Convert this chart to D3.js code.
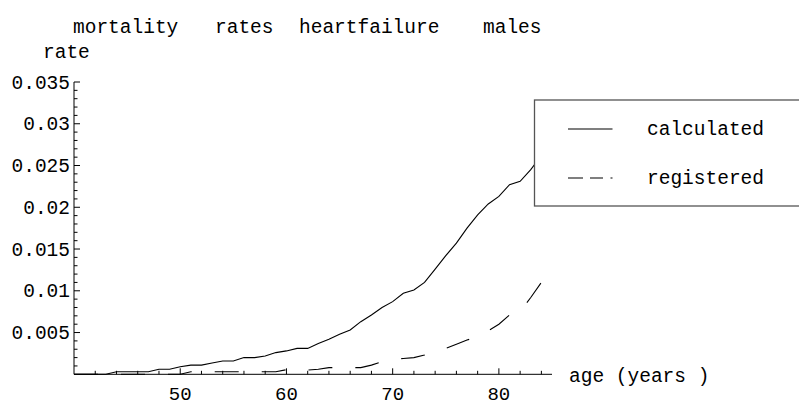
<!DOCTYPE html>
<html>
<head>
<meta charset="utf-8">
<script src="https://cdn.jsdelivr.net/npm/d3@7"></script>
<style>
  html, body { margin: 0; padding: 0; background: #fff; }
  svg { display: block; }
  text { font-family: "Liberation Mono", "Courier New", monospace; fill: #000; }
</style>
</head>
<body>
<svg id="chart" width="799" height="405"></svg>
<script>
// Heart failure mortality rates for males, by age
const ages = d3.range(40, 86);
const calculated = [
  0, 0, 0, 0, 0.0003, 0.0003, 0.0003, 0.0003, 0.0006, 0.0006,
  0.0009, 0.0011, 0.0011, 0.00135, 0.0016, 0.0016, 0.002, 0.002, 0.0022, 0.0026,
  0.0028, 0.0031, 0.0031, 0.0037, 0.0042, 0.0048, 0.0053, 0.0063, 0.0071, 0.008,
  0.0087, 0.0097, 0.0101, 0.011, 0.0126, 0.0142, 0.0157, 0.0175, 0.0191, 0.0204,
  0.0213, 0.0227, 0.0231, 0.0245, 0.0262, 0.0278
];
const registered = [
  0, 0, 0, 0, 0, 0, 0, 0, 0, 0,
  0, 0.0003, 0.0003, 0.0003, 0.0003, 0.0003, 0.0003, 0.0003, 0.0003, 0.0003,
  0.00055, 0.0005, 0.0005, 0.0006, 0.0008, 0.0008, 0.0008, 0.0008, 0.0011, 0.0015,
  0.0018, 0.0019, 0.002, 0.0023, 0.0027, 0.0031, 0.0036, 0.0041, 0.0045, 0.0052,
  0.006, 0.0071, 0.0075, 0.0092, 0.011, 0.0127
];
const xTickLabels = [50, 60, 70, 80];
const yTickLabels = [0.005, 0.01, 0.015, 0.02, 0.025, 0.03, 0.035];
const titleWords = ["mortality", "rates", "heartfailure", "males"];
const seriesNames = ["calculated", "registered"];

const svg = d3.select("#chart");
const x = d3.scaleLinear().domain([40, 85]).range([74, 552]);
const y = d3.scaleLinear().domain([0, 0.035]).range([374.3, 82]);

// title, spaced word by word
const titleX = [73, 215, 299, 483];
const title = svg.append("text").attr("y", 33).style("font-size", "19.5px");
titleWords.forEach((w, i) => title.append("tspan").attr("x", titleX[i]).text(w));

svg.append("text").attr("x", 43).attr("y", 58).style("font-size", "19.5px").text("rate");

// axes
const axisG = svg.append("g").attr("stroke", "#000").attr("stroke-width", 1).attr("fill", "none");
axisG.append("line").attr("x1", x(40)).attr("x2", x(85)).attr("y1", y(0)).attr("y2", y(0));
axisG.append("line").attr("x1", x(40)).attr("x2", x(40)).attr("y1", y(0)).attr("y2", y(0.035));

// x ticks every 2 years, longer at the labelled decades
d3.range(42, 85, 2).forEach(a => {
  const major = a % 10 === 0;
  axisG.append("line").attr("x1", x(a)).attr("x2", x(a))
    .attr("y1", y(0)).attr("y2", y(0) - (major ? 6 : 3.5));
});
// y ticks every 0.001, longer at the labelled values
d3.range(1, 36).forEach(k => {
  const v = k * 0.001;
  const major = k % 5 === 0;
  axisG.append("line").attr("x1", x(40)).attr("x2", x(40) + (major ? 6 : 3.5))
    .attr("y1", y(v)).attr("y2", y(v));
});

svg.append("g").selectAll("text").data(xTickLabels).join("text")
  .attr("x", d => x(d)).attr("y", 400)
  .attr("text-anchor", "middle").style("font-size", "19px").text(d => d);

svg.append("g").selectAll("text").data(yTickLabels).join("text")
  .attr("x", 70).attr("y", d => y(d) + 6.5)
  .attr("text-anchor", "end").style("font-size", "19.5px").text(d => d);

svg.append("text").attr("x", 569).attr("y", 382).style("font-size", "19.5px").text("age (years )");

// curves
const line = d3.line().x(d => x(d[0])).y(d => y(d[1]));
svg.append("path").datum(ages.map((a, i) => [a, calculated[i]]))
  .attr("d", line).attr("fill", "none").attr("stroke", "#000").attr("stroke-width", 1.1);
svg.append("path").datum(ages.map((a, i) => [a, registered[i]]))
  .attr("d", line).attr("fill", "none").attr("stroke", "#000").attr("stroke-width", 1.1)
  .attr("stroke-dasharray", "24 23");

// legend
const lg = svg.append("g");
lg.append("rect").attr("x", 534.5).attr("y", 100).attr("width", 300).attr("height", 106)
  .attr("fill", "#fff").attr("stroke", "#555").attr("stroke-width", 1.3);
const legendY = [129, 178];
seriesNames.forEach((name, i) => {
  const l = lg.append("line").attr("x1", 568).attr("x2", 612.5)
    .attr("y1", legendY[i]).attr("y2", legendY[i])
    .attr("stroke", "#000").attr("stroke-width", 1.1);
  if (i === 1) l.attr("stroke-dasharray", "15 7 13 7.5");
  lg.append("text").attr("x", 647).attr("y", legendY[i] + 6)
    .style("font-size", "19.5px").text(name);
});
</script>
</body>
</html>
